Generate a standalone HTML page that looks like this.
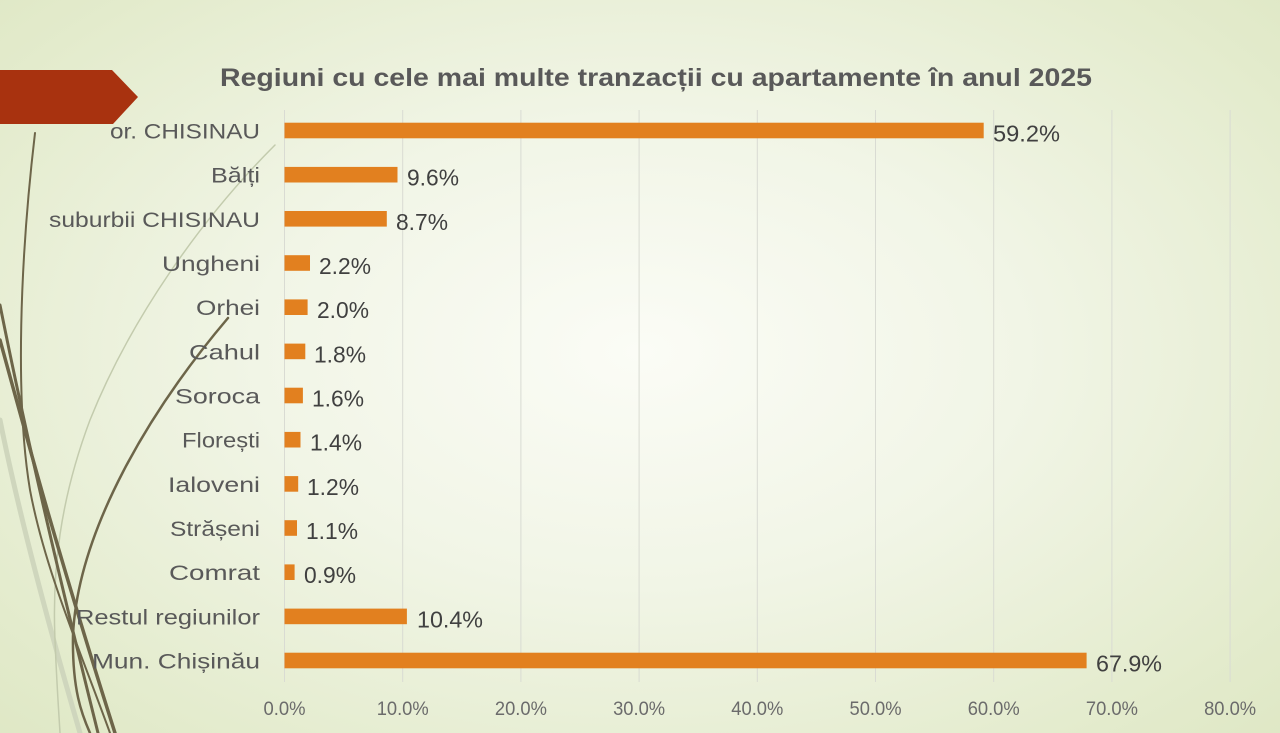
<!DOCTYPE html>
<html><head><meta charset="utf-8"><style>
html,body{margin:0;padding:0;width:1280px;height:733px;overflow:hidden}
body{background:radial-gradient(ellipse 75% 80% at 50% 48%,#fbfcf6 0%,#f1f5e6 40%,#e3ebcc 80%,#dde6c2 100%)}
svg{position:absolute;left:0;top:0}
</style></head><body>
<svg width="1280" height="733" viewBox="0 0 1280 733" xmlns="http://www.w3.org/2000/svg">
<g fill="none" stroke-linecap="round">
<path d="M0,420 C20,520 50,630 80,733" stroke="#cfd6bd" stroke-width="5"/>
<path d="M275,145 C200,220 130,320 90,420 C60,500 52,570 55,640 C57,690 59,715 60,733" stroke="#c3cbad" stroke-width="1.5"/>
<path d="M35,133 C20,260 15,400 30,490 C45,570 80,650 110,733" stroke="#6d6549" stroke-width="2"/>
<path d="M0,340 C30,450 60,560 115,733" stroke="#6d6549" stroke-width="3.5"/>
<path d="M0,305 C25,430 55,560 98,733" stroke="#6d6549" stroke-width="3"/>
<path d="M228,318 C150,410 78,530 73,635 C72,690 82,715 90,733" stroke="#6d6549" stroke-width="2.5"/>
</g>
<polygon points="0,70 112,70 138,97 113,124 0,124" fill="#a8320f"/>
<text x="656" y="86" text-anchor="middle" font-family="Liberation Sans, sans-serif" font-weight="bold" font-size="25" fill="#595959" textLength="872" lengthAdjust="spacingAndGlyphs">Regiuni cu cele mai multe tranzacții cu apartamente în anul 2025</text>
<g stroke="#d9dbd3" stroke-width="1">
<line x1="284.5" y1="110" x2="284.5" y2="682"/>
<line x1="402.7" y1="110" x2="402.7" y2="682"/>
<line x1="520.9" y1="110" x2="520.9" y2="682"/>
<line x1="639.1" y1="110" x2="639.1" y2="682"/>
<line x1="757.3" y1="110" x2="757.3" y2="682"/>
<line x1="875.5" y1="110" x2="875.5" y2="682"/>
<line x1="993.7" y1="110" x2="993.7" y2="682"/>
<line x1="1111.9" y1="110" x2="1111.9" y2="682"/>
<line x1="1230.1" y1="110" x2="1230.1" y2="682"/>
</g>
<g fill="#e2801f">
<rect x="284.5" y="122.7" width="699.2" height="15.6"/>
<rect x="284.5" y="166.9" width="113" height="15.6"/>
<rect x="284.5" y="211.0" width="102.3" height="15.6"/>
<rect x="284.5" y="255.2" width="25.5" height="15.6"/>
<rect x="284.5" y="299.4" width="23.1" height="15.6"/>
<rect x="284.5" y="343.6" width="20.8" height="15.6"/>
<rect x="284.5" y="387.7" width="18.4" height="15.6"/>
<rect x="284.5" y="431.9" width="16" height="15.6"/>
<rect x="284.5" y="476.1" width="13.7" height="15.6"/>
<rect x="284.5" y="520.2" width="12.5" height="15.6"/>
<rect x="284.5" y="564.4" width="10.1" height="15.6"/>
<rect x="284.5" y="608.6" width="122.4" height="15.6"/>
<rect x="284.5" y="652.7" width="802.1" height="15.6"/>
</g>
<g font-family="Liberation Sans, sans-serif" font-size="21" fill="#595959" text-anchor="end">
<text x="260" y="138.5" textLength="150" lengthAdjust="spacingAndGlyphs">or. CHISINAU</text>
<text x="260" y="182.7" textLength="49" lengthAdjust="spacingAndGlyphs">Bălți</text>
<text x="260" y="226.8" textLength="211" lengthAdjust="spacingAndGlyphs">suburbii CHISINAU</text>
<text x="260" y="271.0" textLength="98" lengthAdjust="spacingAndGlyphs">Ungheni</text>
<text x="260" y="315.2" textLength="64" lengthAdjust="spacingAndGlyphs">Orhei</text>
<text x="260" y="359.4" textLength="71" lengthAdjust="spacingAndGlyphs">Cahul</text>
<text x="260" y="403.5" textLength="85" lengthAdjust="spacingAndGlyphs">Soroca</text>
<text x="260" y="447.7" textLength="78" lengthAdjust="spacingAndGlyphs">Florești</text>
<text x="260" y="491.9" textLength="92" lengthAdjust="spacingAndGlyphs">Ialoveni</text>
<text x="260" y="536.0" textLength="90" lengthAdjust="spacingAndGlyphs">Strășeni</text>
<text x="260" y="580.2" textLength="91" lengthAdjust="spacingAndGlyphs">Comrat</text>
<text x="260" y="624.4" textLength="184" lengthAdjust="spacingAndGlyphs">Restul regiunilor</text>
<text x="260" y="668.5" textLength="168" lengthAdjust="spacingAndGlyphs">Mun. Chișinău</text>
</g>
<g font-family="Liberation Sans, sans-serif" font-size="23" fill="#404040">
<text x="993" y="141.5" textLength="67" lengthAdjust="spacingAndGlyphs">59.2%</text>
<text x="407" y="185.7" textLength="52" lengthAdjust="spacingAndGlyphs">9.6%</text>
<text x="396" y="229.8" textLength="52" lengthAdjust="spacingAndGlyphs">8.7%</text>
<text x="319" y="274.0" textLength="52" lengthAdjust="spacingAndGlyphs">2.2%</text>
<text x="317" y="318.2" textLength="52" lengthAdjust="spacingAndGlyphs">2.0%</text>
<text x="314" y="362.4" textLength="52" lengthAdjust="spacingAndGlyphs">1.8%</text>
<text x="312" y="406.5" textLength="52" lengthAdjust="spacingAndGlyphs">1.6%</text>
<text x="310" y="450.7" textLength="52" lengthAdjust="spacingAndGlyphs">1.4%</text>
<text x="307" y="494.9" textLength="52" lengthAdjust="spacingAndGlyphs">1.2%</text>
<text x="306" y="539.0" textLength="52" lengthAdjust="spacingAndGlyphs">1.1%</text>
<text x="304" y="583.2" textLength="52" lengthAdjust="spacingAndGlyphs">0.9%</text>
<text x="417" y="627.4" textLength="66" lengthAdjust="spacingAndGlyphs">10.4%</text>
<text x="1096" y="671.5" textLength="66" lengthAdjust="spacingAndGlyphs">67.9%</text>
</g>
<g font-family="Liberation Sans, sans-serif" font-size="19" fill="#6b6b6b" text-anchor="middle">
<text x="284.5" y="715" textLength="42" lengthAdjust="spacingAndGlyphs">0.0%</text>
<text x="402.7" y="715" textLength="52" lengthAdjust="spacingAndGlyphs">10.0%</text>
<text x="520.9" y="715" textLength="52" lengthAdjust="spacingAndGlyphs">20.0%</text>
<text x="639.1" y="715" textLength="52" lengthAdjust="spacingAndGlyphs">30.0%</text>
<text x="757.3" y="715" textLength="52" lengthAdjust="spacingAndGlyphs">40.0%</text>
<text x="875.5" y="715" textLength="52" lengthAdjust="spacingAndGlyphs">50.0%</text>
<text x="993.7" y="715" textLength="52" lengthAdjust="spacingAndGlyphs">60.0%</text>
<text x="1111.9" y="715" textLength="52" lengthAdjust="spacingAndGlyphs">70.0%</text>
<text x="1230.1" y="715" textLength="52" lengthAdjust="spacingAndGlyphs">80.0%</text>
</g>
</svg>
</body></html>
